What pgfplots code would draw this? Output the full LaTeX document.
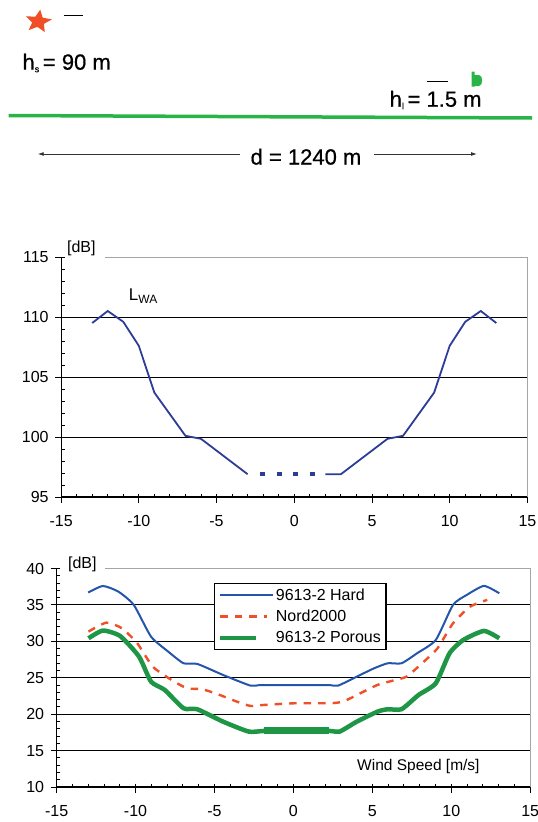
\documentclass[border=0pt]{standalone}
\usepackage{pgfplots}
\pgfplotsset{compat=1.18}
\usepackage{fontspec}
\setmainfont{Liberation Sans}
\newfontfamily\heavy[FakeBold=0.6]{Liberation Sans}
\usetikzlibrary{arrows.meta}
\newcommand\fs[1]{\fontsize{#1}{#1}\selectfont}
\definecolor{topblue}{RGB}{45,60,150}
\definecolor{hardblue}{RGB}{35,85,170}
\definecolor{nordred}{RGB}{240,80,40}
\definecolor{porgreen}{RGB}{30,150,70}
\definecolor{groundgreen}{RGB}{40,180,70}
\definecolor{starred}{RGB}{240,78,38}
\definecolor{framegray}{RGB}{165,165,165}
\pgfdeclareplotmark{fstar}{%
  \pgfpathmoveto{\pgfpointpolar{90}{\pgfplotmarksize}}%
  \pgfpathlineto{\pgfpointpolar{126}{0.45\pgfplotmarksize}}%
  \pgfpathlineto{\pgfpointpolar{162}{\pgfplotmarksize}}%
  \pgfpathlineto{\pgfpointpolar{198}{0.45\pgfplotmarksize}}%
  \pgfpathlineto{\pgfpointpolar{234}{\pgfplotmarksize}}%
  \pgfpathlineto{\pgfpointpolar{270}{0.45\pgfplotmarksize}}%
  \pgfpathlineto{\pgfpointpolar{306}{\pgfplotmarksize}}%
  \pgfpathlineto{\pgfpointpolar{342}{0.45\pgfplotmarksize}}%
  \pgfpathlineto{\pgfpointpolar{18}{\pgfplotmarksize}}%
  \pgfpathlineto{\pgfpointpolar{54}{0.45\pgfplotmarksize}}%
  \pgfpathclose\pgfusepathqfill}
\pgfdeclareplotmark{rec}{%
  \pgfpathrectangle{\pgfpoint{-5.3pt}{-7.7pt}}{\pgfpoint{2.8pt}{15pt}}%
  \pgfpathmoveto{\pgfpoint{-2.7pt}{4pt}}%
  \pgfpathlineto{\pgfpoint{2pt}{4pt}}%
  \pgfpathcurveto{\pgfpoint{6.2pt}{4pt}}{\pgfpoint{6.2pt}{-7pt}}{\pgfpoint{2pt}{-7pt}}%
  \pgfpathlineto{\pgfpoint{-2.7pt}{-7pt}}%
  \pgfpathclose\pgfusepathqfill}
\pgfplotsset{
  myax/.style={
    scale only axis, xmin=-15, xmax=15,
    axis x line*=bottom, axis y line*=left,
    axis line style={black, line width=1.2pt, -},
    xtick={-15,-10,...,15}, minor xtick={-15,-14,...,15},
    tick align=outside, major tick length=6pt, minor tick length=-3.5pt,
    tick style={black, line width=0.9pt},
    ymajorgrids, grid style={black, line width=0.9pt},
    extra y tick style={grid=none},
    ticklabel style={font=\fs{16}},
    xticklabel style={yshift=-9pt},
    yticklabel style={xshift=-3pt},
    /pgf/number format/assume math mode=true,
    clip=false,
  },
  legA/.style={legend image code/.code={\draw[##1] (0pt,0pt) -- (53pt,0pt);}},
  legB/.style={legend image code/.code={\draw[##1] (0pt,0pt) -- (47pt,0pt);}},
  legC/.style={legend image code/.code={\draw[##1] (0pt,0pt) -- (36pt,0pt);}},
}
\begin{document}
\begin{tikzpicture}
\useasboundingbox (0,0) rectangle (538pt,-822pt);
% ---------- schematic ----------
\begin{axis}[at={(0pt,0pt)}, anchor=north west, scale only axis,
  width=538pt, height=200pt, xmin=0, xmax=538, ymin=-200, ymax=0,
  hide axis, clip=false]
\addplot[only marks, mark=fstar, mark size=12pt, color=starred,
  mark options={xscale=1.15, rotate=-8}] coordinates {(38.3,-21.5)};
\addplot[black, line width=1pt] coordinates {(63.5,-15.5) (82.5,-15.5)};
\addplot[black, line width=1pt] coordinates {(427,-81) (448,-81)};
\addplot[groundgreen, line width=3.5pt] coordinates {(8.6,-115.5) (532,-118)};
\addplot[only marks, mark=rec, color=groundgreen] coordinates {(477,-79)};
\addplot[black!80, line width=0.9pt, -{Latex[length=6pt,width=4pt]}] coordinates {(240.2,-154) (37.7,-154)};
\addplot[black!80, line width=0.9pt, -{Latex[length=6pt,width=4pt]}] coordinates {(374,-154) (477,-154)};
\node[anchor=west, font=\heavy\fs{22}, inner sep=0pt] at (axis cs:22.3,-63) {h\raisebox{-2.5pt}{\fs{9}s}\,= 90 m};
\node[anchor=west, font=\heavy\fs{22}, inner sep=0pt] at (axis cs:389.5,-100) {h\raisebox{-2.5pt}{\fs{9}l}\,= 1.5 m};
\node[font=\heavy\fs{22}, inner sep=0pt] at (axis cs:306,-156.7) {d = 1240 m};
\end{axis}
% ---------- top plot ----------
\begin{axis}[myax, at={(61.1pt,-497pt)}, anchor=south west,
  width=466.3pt, height=240pt, ymin=95, ymax=115,
  ytick={95,100,105,110}, extra y ticks={115}, minor ytick={95,...,115}]
\addplot[topblue, line width=1.8pt] coordinates {(-13,109.5) (-12,110.5) (-11,109.6) (-10,107.6) (-9,103.7) (-7,100.1) (-6,99.85) (-3,96.9)};
\addplot[topblue, line width=4.5pt, dash pattern=on 5pt off 11.7pt] coordinates {(-2.2,96.9) (1.45,96.9)};
\addplot[topblue, line width=1.8pt] coordinates {(2,96.9) (3,96.9) (6,99.85) (7,100.1) (9,103.7) (10,107.6) (11,109.6) (12,110.5) (13,109.5)};
\draw[framegray, line width=1pt] (axis cs:-12.19,115) -- (axis cs:15,115) -- (axis cs:15,95);
\node[font=\fs{16}] at (axis cs:-13.7,115.71) {[dB]};
\node[anchor=west, font=\fs{17}, inner sep=0pt] at (axis cs:-10.65,111.77) {L\raisebox{-3pt}{\fs{12}WA}};
\end{axis}
% ---------- bottom plot ----------
\begin{axis}[myax, at={(56.6pt,-787pt)}, anchor=south west,
  width=473.6pt, height=218.5pt, ymin=10, ymax=40,
  ytick={10,15,...,35}, extra y ticks={40}, minor ytick={10,...,40},
  legend style={at={(0.3324,0.9355)}, anchor=north west, draw=black, line width=1.3pt,
    font=\fs{16}, inner xsep=3.5pt, inner ysep=1pt,
    nodes={inner ysep=4.2pt, inner xsep=1.5pt}},
  legend cell align=left]
\addplot[hardblue, line width=2pt, smooth, tension=0.35, legA]
  coordinates {(-13,36.7) (-12.07,37.6) (-11.09,36.83) (-10.11,35.0) (-9.02,30.65) (-7.93,28.59) (-6.96,26.99) (-6.09,26.9) (-4.46,25.39) (-2.72,23.92) (-2.07,24.0) (0,24.0) (2.2,24.0) (2.83,23.92) (4.02,25.16) (5.11,26.3) (5.98,26.99) (6.85,26.99) (7.83,28.36) (9.02,30.19) (10.11,35.0) (10.98,36.37) (12.07,37.61) (13.04,36.6)};
\addlegendentry{9613-2 Hard}
\addplot[nordred, line width=2.4pt, dash pattern=on 7.5pt off 7pt, smooth, tension=0.35, legB]
  coordinates {(-12.98,31.34) (-11.85,32.57) (-10.87,31.8) (-9.89,29.74) (-8.91,26.53) (-7.72,24.7) (-6.74,23.56) (-5.76,23.42) (-4.67,22.64) (-3.59,21.73) (-2.72,21.13) (-1.85,21.27) (0.11,21.5) (2.28,21.5) (3.15,21.73) (4.24,22.87) (5.33,24.02) (6.3,24.61) (7.17,25.16) (8.15,26.99) (9.13,29.05) (10.11,32.48) (11.2,34.77) (12.28,35.69)};
\addlegendentry{Nord2000}
\addplot[porgreen, line width=4.5pt, smooth, tension=0.35, legC]
  coordinates {(-12.98,30.42) (-12.07,31.48) (-10.98,30.74) (-9.78,27.91) (-9.02,24.47) (-8.15,23.33) (-6.96,20.81) (-6.09,20.68) (-4.46,18.98) (-2.83,17.61) (-1.85,17.7) (0,17.7) (2.28,17.7) (2.93,17.61) (4.02,18.98) (5.33,20.35) (5.98,20.68) (6.85,20.68) (7.93,22.64) (9.02,24.24) (9.89,28.36) (10.76,30.19) (12.07,31.43) (13.04,30.42)};
\addlegendentry{9613-2 Porous}
\addplot[porgreen, line width=7pt, forget plot] coordinates {(-1.85,17.7) (2.28,17.7)};
\draw[framegray, line width=1pt] (axis cs:-11.95,40) -- (axis cs:15,40) -- (axis cs:15,10);
\node[font=\fs{16}] at (axis cs:-13.37,40.63) {[dB]};
\node[anchor=west, font=\fs{15.5}, inner sep=0pt] at (axis cs:4.03,12.76) {Wind Speed [m/s]};
\end{axis}
\end{tikzpicture}
\end{document}
